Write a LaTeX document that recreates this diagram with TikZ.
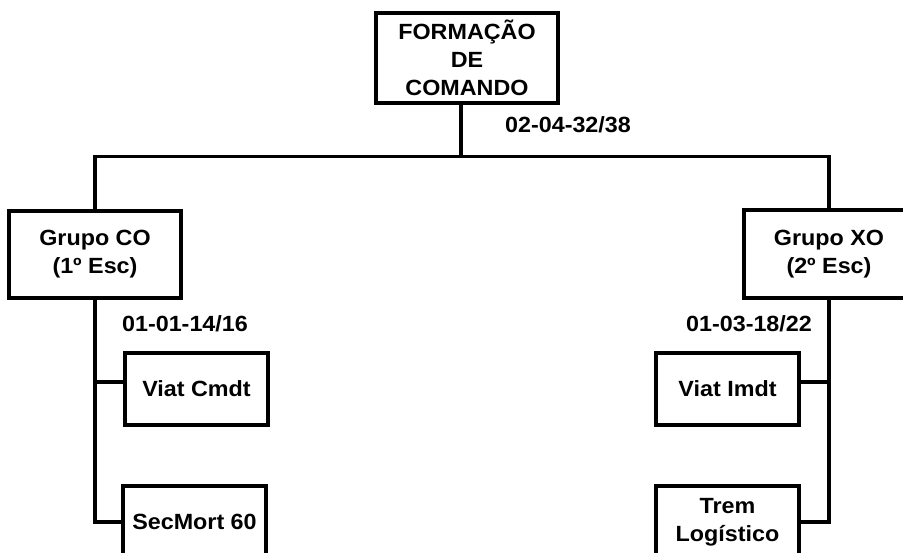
\documentclass[tikz,border=0pt]{standalone}
\usepackage{fontspec}
\setmainfont{Liberation Sans}[FakeStretch=1.06]
\begin{document}
\begin{tikzpicture}[x=1pt,y=-1pt,
  box/.style={draw=black,line width=3.5pt,fill=white,align=center,inner sep=0pt,
    font=\bfseries\fontsize{22}{28}\selectfont},
  lbl/.style={inner sep=0pt,font=\bfseries\fontsize{22}{28}\selectfont},
  conn/.style={line width=3.5pt,line join=miter}]
\clip (0,0) rectangle (903,553);
\useasboundingbox (0,0) rectangle (903,553);
\fill[white] (0,0) rectangle (903,553);
% nodes
\node[box,minimum width=182pt,minimum height=90pt] (top) at (467,58) {FORMAÇÃO\\DE\\COMANDO};
\node[box,minimum width=172pt,minimum height=87pt] (gco) at (95,254.5) {Grupo CO\\(1º Esc)};
\node[box,minimum width=170pt,minimum height=88pt] (gxo) at (829,254) {Grupo XO\\(2º Esc)};
\node[box,minimum width=143pt,minimum height=72pt] (vc) at (196.5,389) {Viat Cmdt};
\node[box,minimum width=143pt,minimum height=72pt] (vi) at (727.5,389) {Viat Imdt};
\node[box,minimum width=143pt,minimum height=72pt] (sm) at (194.5,522) {SecMort 60};
\node[box,minimum width=143pt,minimum height=72pt] (tl) at (727.5,522) {Trem\\Logístico};
% labels
\node[lbl] (l1) at (568,125) {02-04-32/38};
\node[lbl] (l2) at (185,324) {01-01-14/16};
\node[lbl] (l3) at (749,324) {01-03-18/22};
% connectors
\coordinate (bus) at (461,156.5);
\draw[conn] ([xshift=-6pt]top.south) -- (bus);
\draw[conn] (gco.north) |- (bus) -| (gxo.north);
\draw[conn] (gco.south) |- (sm.west);
\draw[conn] ([yshift=7pt]vc.west) -- ([yshift=7pt]vc.west -| gco.south);
\draw[conn] (gxo.south) |- (tl.east);
\draw[conn] ([yshift=7pt]vi.east) -- ([yshift=7pt]vi.east -| gxo.south);
\end{tikzpicture}
\end{document}
